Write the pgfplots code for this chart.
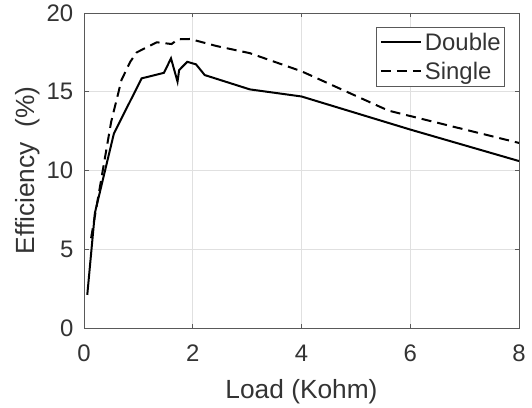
\documentclass[border=0pt]{standalone}
\usepackage{fontspec}
\setmainfont{Liberation Sans}
\usepackage{pgfplots}
\pgfplotsset{compat=1.18}
\usetikzlibrary{calc}
\definecolor{txt}{gray}{0.2}
\definecolor{axln}{gray}{0.35}
\definecolor{grd}{gray}{0.88}
\begin{document}
\begin{tikzpicture}
\begin{axis}[
  scale only axis,
  width=435bp, height=315bp,
  xmin=0, xmax=8, ymin=0, ymax=20,
  xtick={0,2,4,6,8}, ytick={0,5,10,15,20},
  grid=major,
  major grid style={draw=grd, line width=0.6bp},
  axis line style={draw=axln, line width=0.8bp},
  tick style={draw=axln, line width=0.8bp},
  tick align=inside,
  major tick length=4.5bp,
  /pgf/number format/assume math mode=true,
  tick label style={font=\fontsize{24}{28}\selectfont, text=txt, inner sep=0pt},
  xticklabel style={anchor=north, yshift=-17bp},
  yticklabel style={anchor=east, xshift=-10.5bp},
  label style={font=\fontsize{26.4}{30}\selectfont, text=txt, inner sep=0pt},
  xlabel={Load (Kohm)},
  ylabel={Efficiency~~(\%)},
  xlabel style={at={(axis description cs:0.5,-0.2222)}, anchor=base},
  ylabel style={at={(axis description cs:-0.1149,0.5)}, anchor=base, rotate=0},
  legend style={at={(axis description cs:0.9678,0.9565)}, anchor=north east,
    draw=axln, line width=0.6bp, fill=white,
    inner xsep=4bp, inner ysep=4bp,
    font=\fontsize{24}{28}\selectfont, text=txt,
    row sep=7bp, column sep=3bp,
    nodes={inner sep=0pt, text height=19bp, text depth=3bp}},
  legend cell align=left,
  legend image code/.code={\draw[#1] (0bp,0bp) -- (40bp,0bp);},
]
\addplot[black, line width=2bp] coordinates {
  (0.06,2.1) (0.2,7.3) (0.55,12.35) (1.06,15.85) (1.47,16.2) (1.6,17.12)
  (1.72,15.64) (1.75,16.38) (1.9,16.9) (2.06,16.74) (2.22,16.06)
  (3.05,15.15) (4.0,14.7) (6.0,12.6) (8.0,10.6)
};
\addlegendentry{Double}
\addplot[black, line width=2bp, dash pattern=on 10bp off 6bp] coordinates {
  (0.13,5.7) (0.5,13.1) (0.69,15.75) (0.85,16.9) (0.97,17.5) (1.34,18.14)
  (1.61,18.03) (1.73,18.33) (1.95,18.35) (2.44,17.9) (3.05,17.45)
  (4.0,16.3) (5.6,13.8) (8.0,11.75)
};
\addlegendentry{Single}
\coordinate (SW) at (rel axis cs:0,0);
\coordinate (NE) at (rel axis cs:1,1);
\end{axis}
\path ($(SW)+(-84bp,-79bp)$) rectangle ($(NE)+(13bp,13bp)$);
\end{tikzpicture}
\end{document}
